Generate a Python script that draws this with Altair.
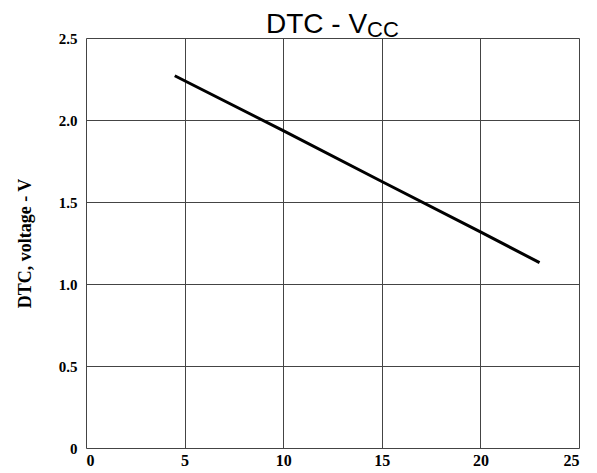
import altair as alt
import pandas as pd

vcc = [4.5, 10, 15, 20, 23]
dtc = [2.27, 1.935, 1.625, 1.318, 1.13]

df = pd.DataFrame({"vcc": vcc, "dtc": dtc})
title_df = pd.DataFrame({"t": ["DTC - V"], "s": ["CC"]})

x = alt.X("vcc:Q", scale=alt.Scale(domain=[0, 25], nice=False),
          axis=alt.Axis(values=[0, 5, 10, 15, 20, 25], format="d", title=None,
                        labelFont="Liberation Serif", labelFontWeight="bold",
                        labelFontSize=16, labelColor="black", labelPadding=4,
                        ticks=False, domain=False, grid=True,
                        gridColor="#444", gridWidth=1))
y = alt.Y("dtc:Q", scale=alt.Scale(domain=[0, 2.5], nice=False),
          axis=alt.Axis(values=[0, 0.5, 1.0, 1.5, 2.0, 2.5],
                        labelExpr="datum.value == 0 ? '0' : format(datum.value, '.1f')",
                        title="DTC, voltage - V", titleFont="Liberation Serif",
                        titleFontWeight="bold", titleFontSize=18, titleColor="black",
                        titlePadding=24,
                        labelFont="Liberation Serif", labelFontWeight="bold",
                        labelFontSize=15, labelColor="black", labelPadding=9,
                        ticks=False, domain=False, grid=True,
                        gridColor="#444", gridWidth=1))

line = alt.Chart(df).mark_line(color="black", strokeWidth=3).encode(x=x, y=y)

t1 = alt.Chart(title_df).mark_text(font="Liberation Sans", fontSize=28, align="left",
                                   baseline="alphabetic", color="black").encode(
    x=alt.value(180), y=alt.value(-5), text="t:N")
t2 = alt.Chart(title_df).mark_text(font="Liberation Sans", fontSize=22, align="left",
                                   baseline="alphabetic", color="black").encode(
    x=alt.value(281), y=alt.value(-1), text="s:N")

chart = alt.layer(line, t1, t2).properties(
    width=493, height=410,
    autosize=alt.AutoSizeParams(type="none"),
    padding={"left": 78, "top": 30, "right": 10, "bottom": 25},
).configure_view(stroke="black", strokeWidth=1.5).configure(background="white")

chart.save("out.html", embed_options={"renderer": "svg", "actions": False})
